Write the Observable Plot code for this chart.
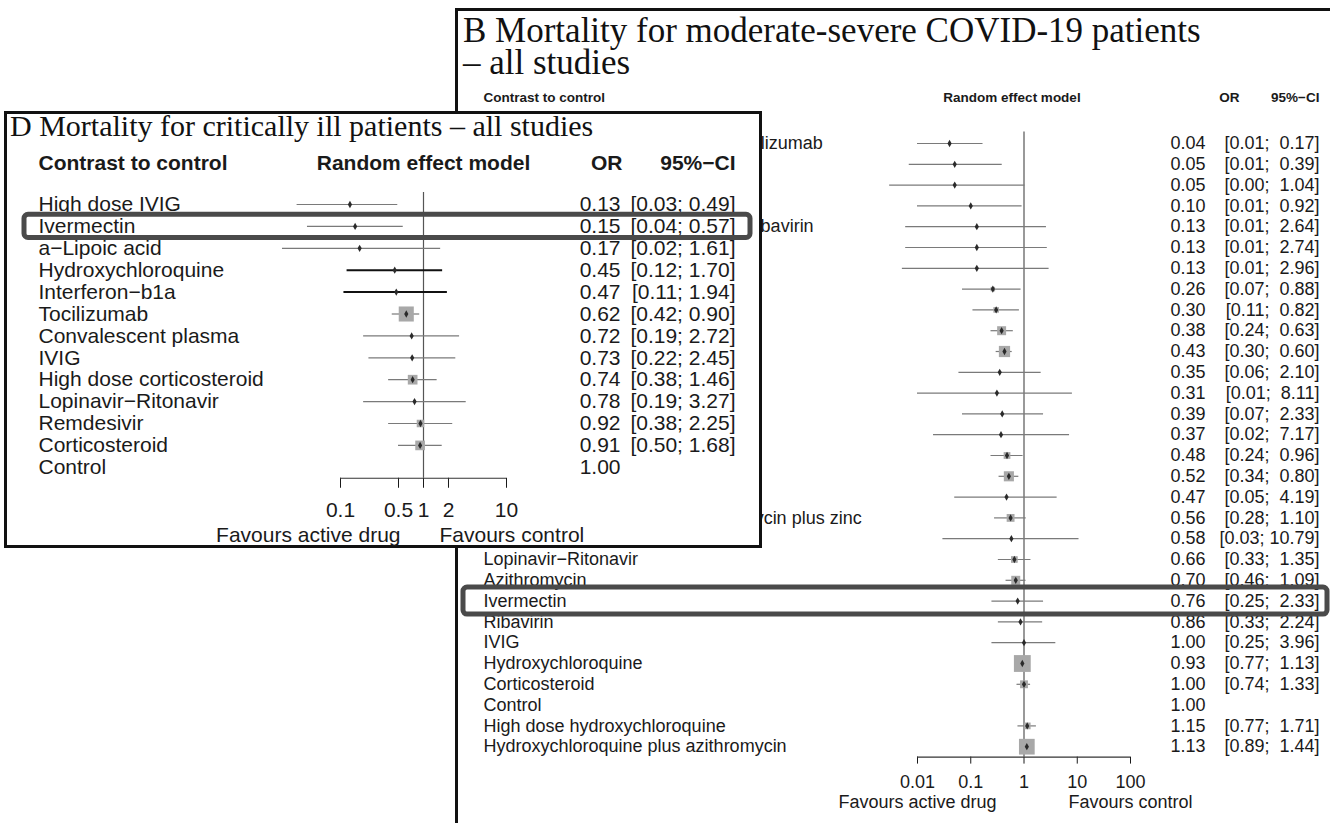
<!DOCTYPE html>
<html>
<head>
<meta charset="utf-8">
<script src="https://cdn.jsdelivr.net/npm/d3@7"></script>
<script src="https://cdn.jsdelivr.net/npm/@observablehq/plot@0.6"></script>
<style>
  html, body { margin:0; padding:0; background:#fff; }
  #page { position:relative; width:1330px; height:823px; overflow:hidden; background:#fff; }
  .frameB { position:absolute; left:455px; top:8px; width:1000px; height:1000px; border-left:3px solid #111; border-top:3px solid #111; box-sizing:border-box; z-index:1; }
  .layerB { position:absolute; left:0; top:0; z-index:2; }
  .frameD { position:absolute; left:4px; top:111px; width:758px; height:437px; border:3px solid #111; background:#fff; box-sizing:border-box; z-index:3; }
  .layerD { position:absolute; left:0; top:0; z-index:4; }
  .title { position:absolute; font-family:"Liberation Serif","Times New Roman",serif; color:#111; white-space:nowrap; }
  svg text { white-space: pre; }
</style>
</head>
<body>
<div id="page">
  <div class="frameB"></div>
  <div class="title" style="left:463px;top:15px;font-size:35px;line-height:32px;z-index:2">B Mortality for moderate-severe COVID-19 patients<br>– all studies</div>
  <div class="layerB" id="plotB"></div>
  <div class="frameD"></div>
  <div class="title" style="left:10px;top:111px;font-size:30px;line-height:30px;z-index:5">D Mortality for critically ill patients – all studies</div>
  <div class="layerD" id="plotD"></div>
</div>
<script>
// ---------------- Panel B: moderate-severe patients ----------------
const bDrugs = [
  "Intravenous corticosteroid plus tocilizumab",
  "Interferon−a2b",
  "Sarilumab",
  "Colchicine",
  "Sofosbuvir plus Daclatasvir plus Ribavirin",
  "Interferon−b1a",
  "Nitazoxanide",
  "Sofosbuvir plus Daclatasvir",
  "Interferon−b1b",
  "Tocilizumab",
  "High dose corticosteroid",
  "Convalescent plasma",
  "Imatinib",
  "Favipiravir",
  "Bromhexine",
  "Remdesivir",
  "Methylprednisolone",
  "Anakinra",
  "Hydroxychloroquine plus azithromycin plus zinc",
  "Umifenovir",
  "Lopinavir−Ritonavir",
  "Azithromycin",
  "Ivermectin",
  "Ribavirin",
  "IVIG",
  "Hydroxychloroquine",
  "Corticosteroid",
  "Control",
  "High dose hydroxychloroquine",
  "Hydroxychloroquine plus azithromycin"
];
const bOR = [0.04,0.05,0.05,0.10,0.13,0.13,0.13,0.26,0.30,0.38,0.43,0.35,0.31,0.39,0.37,0.48,0.52,0.47,0.56,0.58,0.66,0.70,0.76,0.86,1.00,0.93,1.00,1.00,1.15,1.13];
const bLo = [0.01,0.007,0.003,0.01,0.006,0.006,0.0052,0.07,0.11,0.24,0.30,0.06,0.01,0.07,0.02,0.24,0.34,0.05,0.28,0.03,0.33,0.46,0.25,0.33,0.25,0.77,0.74,null,0.77,0.89];
const bHi = [0.17,0.39,1.04,0.92,2.64,2.74,2.96,0.88,0.82,0.63,0.60,2.10,8.11,2.33,7.17,0.96,0.80,4.19,1.10,10.79,1.35,1.09,2.33,2.24,3.96,1.13,1.33,null,1.71,1.44];
const bWeight = [1,1,1,1,1,1,1,16,25,64,100,1,1,1,1,36,81,1,49,1,36,64,1,1,1,225,49,0,36,196];
const bTicks = [0.01, 0.1, 1, 10, 100];

// ---------------- Panel D: critically ill patients ----------------
const dDrugs = [
  "High dose IVIG",
  "Ivermectin",
  "a−Lipoic acid",
  "Hydroxychloroquine",
  "Interferon−b1a",
  "Tocilizumab",
  "Convalescent plasma",
  "IVIG",
  "High dose corticosteroid",
  "Lopinavir−Ritonavir",
  "Remdesivir",
  "Corticosteroid",
  "Control"
];
const dOR = [0.13,0.15,0.17,0.45,0.47,0.62,0.72,0.73,0.74,0.78,0.92,0.91,1.00];
const dLo = [0.03,0.04,0.02,0.12,0.11,0.42,0.19,0.22,0.38,0.19,0.38,0.50,null];
const dHi = [0.49,0.57,1.61,1.70,1.94,0.90,2.72,2.45,1.46,3.27,2.25,1.68,null];
const dWeight = [1,1,1,1,1,196,1,1,81,1,49,81,0];
const dDirect = [false,false,false,true,true,false,false,false,false,false,false,false,false];
const dTicks = [0.1, 0.5, 1, 2, 10];

const highlightDrug = "Ivermectin";
const headers = {contrast: "Contrast to control", model: "Random effect model", or: "OR", ci: "95%−CI"};
const favours = {left: "Favours active drug", right: "Favours control"};

function makeRows(names, or, lo, hi, w, direct) {
  return names.map((name, i) => ({
    i, name, or: or[i], lo: lo[i], hi: hi[i], w: w[i], direct: direct ? direct[i] : false
  }));
}

function forest(c) {
  const rows = c.rows;
  const n = rows.length;
  const yAt = k => c.row0 + k * c.step;
  const yDomain = [c.head, n - 0.5];
  const yRange = yDomain.map(yAt);
  const withCI = rows.filter(d => d.lo != null);
  const hiWidth = d3.max(withCI, d => d.hi.toFixed(2).length);
  const ciText = d => `[${d.lo.toFixed(2)}; ${d.hi.toFixed(2).padStart(hiWidth, " ")}]`;
  const hl = rows.filter(d => d.name === highlightDrug);
  const axisRow = n - 0.5;
  const t0 = c.ticks[0], t1 = c.ticks[c.ticks.length - 1];
  const head = [{y: c.head}];
  const favMarks = c.fav.map(f => Plot.text([f], {
    x: "x", y: () => axisRow, text: "text", textAnchor: f.anchor, dx: f.dx, dy: c.favDy, fontSize: c.font
  }));
  return Plot.plot({
    width: c.width,
    height: c.height,
    marginLeft: c.left,
    marginRight: c.width - c.right,
    marginTop: yRange[0],
    marginBottom: c.height - yRange[1],
    style: {background: "transparent", fontFamily: "'Liberation Sans', Arial, Helvetica, sans-serif", fontSize: c.font + "px", color: "#1a1a1a", overflow: "visible", maxWidth: "none"},
    x: {type: "log", domain: [t0, t1], range: c.xRange, ticks: c.ticks, tickFormat: d => String(d), tickSize: c.tickSize, tickPadding: c.tickPad, label: null},
    y: {type: "linear", domain: yDomain, range: yRange, axis: null},
    r: {type: "sqrt", domain: [0, d3.max(rows, d => d.w)], range: [0, c.rMax]},
    marks: [
      // axis line and reference line at OR = 1
      Plot.ruleY([axisRow], {x1: t0, x2: t1, stroke: "#333", strokeWidth: 1.2}),
      Plot.ruleX([1], {y1: -0.55, y2: axisRow, stroke: "#555", strokeWidth: 1.2}),
      // confidence intervals
      Plot.ruleY(withCI.filter(d => !d.direct), {y: "i", x1: "lo", x2: "hi", stroke: "#7a7a7a", strokeWidth: 1.2}),
      Plot.ruleY(withCI.filter(d => d.direct), {y: "i", x1: "lo", x2: "hi", stroke: "#111", strokeWidth: 2}),
      // weight squares and point estimates
      Plot.dot(withCI, {x: "or", y: "i", r: "w", symbol: "square", fill: "#a8a8a8", stroke: "none"}),
      Plot.dot(withCI, {x: "or", y: "i", r: 2.2, symbol: "diamond", fill: "#2a2a2a", stroke: "none"}),
      // text columns
      Plot.text(rows, {y: "i", text: "name", frameAnchor: "left", textAnchor: "start", fontSize: c.font}),
      Plot.text(rows, {y: "i", text: d => d.or.toFixed(2), frameAnchor: "right", textAnchor: "end", dx: c.orDx, fontSize: c.font}),
      Plot.text(withCI, {y: "i", text: ciText, frameAnchor: "right", textAnchor: "end", fontSize: c.font}),
      // headers
      Plot.text(head, {y: "y", text: () => headers.contrast, frameAnchor: "left", textAnchor: "start", fontWeight: "bold", fontSize: c.headFont}),
      Plot.text(head, {x: () => 1, y: "y", text: () => headers.model, textAnchor: "middle", dx: c.modelDx, fontWeight: "bold", fontSize: c.headFont}),
      Plot.text(head, {y: "y", text: () => headers.or, frameAnchor: "right", textAnchor: "end", dx: c.orHeadDx, fontWeight: "bold", fontSize: c.headFont}),
      Plot.text(head, {y: "y", text: () => headers.ci, frameAnchor: "right", textAnchor: "end", fontWeight: "bold", fontSize: c.headFont}),
      // favours labels under the axis
      ...favMarks,
      // highlight box around the Ivermectin row
      Plot.rect(hl, {y1: d => d.i - c.hlHalf, y2: d => d.i + c.hlHalf, insetLeft: c.hlL, insetRight: c.hlR, fill: "none", stroke: "#4a4a4a", strokeWidth: 5, rx: 4})
    ]
  });
}

const bRows = makeRows(bDrugs, bOR, bLo, bHi, bWeight, null);
const dRows = makeRows(dDrugs, dOR, dLo, dHi, dWeight, dDirect);

document.getElementById("plotB").appendChild(forest({
  rows: bRows, width: 1330, height: 823, left: 483, right: 1319,
  row0: 143, step: 20.8, head: -2.2,
  xRange: [917, 1130], ticks: bTicks, tickSize: 7, tickPad: 11,
  font: 18, headFont: 13.5, orDx: -114, orHeadDx: -80, modelDx: -12, rMax: 9.5,
  favDy: 45,
  fav: [
    {x: bTicks[0], text: favours.left, anchor: "middle", dx: 0},
    {x: bTicks[bTicks.length - 1], text: favours.right, anchor: "middle", dx: 0}
  ],
  hlHalf: 0.65, hlL: -20, hlR: -8
}));

document.getElementById("plotD").appendChild(forest({
  rows: dRows, width: 761, height: 823, left: 38, right: 735,
  row0: 204, step: 21.9, head: -1.9,
  xRange: [340, 506], ticks: dTicks, tickSize: 10, tickPad: 14,
  font: 21, headFont: 21, orDx: -115, orHeadDx: -113, modelDx: 0, rMax: 8.5,
  favDy: 57,
  fav: [
    {x: 1, text: favours.left, anchor: "end", dx: -23},
    {x: 1, text: favours.right, anchor: "start", dx: 16}
  ],
  hlHalf: 0.53, hlL: -14, hlR: -15
}));
</script>
</body>
</html>
